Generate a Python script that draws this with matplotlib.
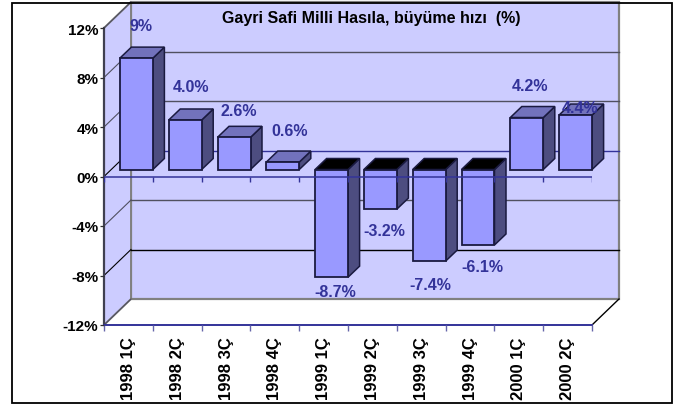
import matplotlib
matplotlib.use("Agg")
import matplotlib.pyplot as plt
from matplotlib.patches import Polygon, Rectangle
from matplotlib.transforms import ScaledTranslation
import numpy as np

categories = ["1998 1Ç", "1998 2Ç", "1998 3Ç", "1998 4Ç", "1999 1Ç",
              "1999 2Ç", "1999 3Ç", "1999 4Ç", "2000 1Ç", "2000 2Ç"]
values = [9.0, 4.0, 2.6, 0.6, -8.7, -3.2, -7.4, -6.1, 4.2, 4.4]
value_labels = ["9%", "4.0%", "2.6%", "0.6%", "-8.7%", "-3.2%", "-7.4%", "-6.1%", "4.2%", "4.4%"]
y_ticks = [-12, -8, -4, 0, 4, 8, 12]
title = "Gayri Safi Milli Hasıla, büyüme hızı  (%)"

# label placement, in px from the bar's front end (x, y up)
label_dx = [5, 6, 5, 7, 4, 4, 1, 4, 3, 4]
label_dy = [33, 33, 27, 32, -14, -21, -23, -22, 32, 8]

W, H = 674, 406
L, R, T, B = 104, 592, 29, 326
NAVY = "#333399"; WALL = "#CCCCFF"; FRONT = "#9999FF"
TOP = "#7272BC"; SIDE = "#4D4D80"; EDGE = "#1a1a40"; GRAY = "#808080"
plt.rcParams["font.family"] = ["Liberation Sans", "DejaVu Sans"]
plt.rcParams["font.weight"] = "bold"

fig = plt.figure(figsize=(W / 100, H / 100), dpi=100, facecolor="white")
ax = fig.add_axes([L / W, 1 - B / H, (R - L) / W, (B - T) / H])
n = len(categories)
ax.set_xlim(0, n)
ax.set_ylim(-12, 12)
ax.patch.set_visible(False)
ax.set_axisbelow(False)

px = n / (R - L)          # data units per px, x
py = 24 / (B - T)         # data units per px, y
wall_dx, wall_dy = 27 * px, 26 * py      # depth of chart box
base_dx, base_dy = 8 * px, 7 * py        # bar front-plane offset
bar_dx, bar_dy = 11.5 * px, 11 * py      # bar depth
bar_w = 33 * px


def poly(pts, **kw):
    kw.setdefault("clip_on", False)
    ax.add_patch(Polygon(pts, closed=True, **kw))


# walls and floor
poly([(wall_dx, -12 + wall_dy), (n + wall_dx, -12 + wall_dy), (n + wall_dx, 12 + wall_dy), (wall_dx, 12 + wall_dy)],
     fc=WALL, ec=GRAY, lw=1.6, zorder=0.5)
poly([(0, -12), (wall_dx, -12 + wall_dy), (wall_dx, 12 + wall_dy), (0, 12)], fc=WALL, ec=GRAY, lw=1.4, zorder=0.6)
ax.plot([n, n + wall_dx], [-12, -12 + wall_dy], color="black", lw=1, clip_on=False, zorder=0.7)
for t in y_ticks:
    col = NAVY if t == 0 else ("black" if t == -8 else "#505060")
    if abs(t) != 12:
        ax.plot([wall_dx, n + wall_dx], [t + wall_dy] * 2, color=col, lw=1.0, clip_on=False, zorder=0.8)
    ax.plot([0, wall_dx], [t, t + wall_dy], color=col if t else "black", lw=0.8, clip_on=False, zorder=0.8)

# bars
centers = np.arange(n) + 0.5
x_front = centers - bar_w / 2 + base_dx
ax.bar(x_front, values, width=bar_w, bottom=base_dy, align="edge", color=FRONT,
       edgecolor=EDGE, linewidth=1.3, zorder=3, clip_on=False)
for x, v in zip(x_front, values):
    y0, y1 = base_dy, base_dy + v
    hi = max(y0, y1)
    xr = x + bar_w
    poly([(xr, y0), (xr + bar_dx, y0 + bar_dy), (xr + bar_dx, y1 + bar_dy), (xr, y1)],
         fc=SIDE, ec=EDGE, lw=1.1, zorder=2.8)
    poly([(x, hi), (xr, hi), (xr + bar_dx, hi + bar_dy), (x + bar_dx, hi + bar_dy)],
         fc="black" if v < 0 else TOP, ec=EDGE, lw=1.1, zorder=2.8)

# zero plane line and its ticks
edges = np.arange(n + 1)
ax.axhline(0, color=NAVY, lw=1.1, zorder=4)
ax.vlines(edges, 0, -5 * py, color=NAVY, lw=1, zorder=4)

# value labels
for x, v, s, dx, dy in zip(x_front, values, value_labels, label_dx, label_dy):
    ax.annotate(s, (x + bar_w / 2, base_dy + v), xytext=(dx * 0.72, dy * 0.72), textcoords="offset points",
                ha="center", va="center", color=NAVY, fontsize=11.5, fontweight="bold", zorder=6,
                annotation_clip=False)

# axes
for s in ("top", "right"):
    ax.spines[s].set_visible(False)
ax.spines["left"].set_color("#404050"); ax.spines["left"].set_linewidth(1.6)
ax.spines["bottom"].set_color(NAVY); ax.spines["bottom"].set_linewidth(1.4)
ax.set_yticks(y_ticks)
ax.set_yticklabels([f"{t}%" for t in y_ticks], fontsize=11, fontweight="bold", color="black")
ax.tick_params(axis="y", length=3, width=0.9, color="#303030", pad=1)
ax.set_xticks(edges)
ax.set_xticklabels([])
ax.set_xticks(centers, minor=True)
ax.set_xticklabels(categories, minor=True, rotation=90, fontsize=12, fontweight="bold",
                   ha="center", va="top", color="black")
shift = ScaledTranslation(2 / 100, 0, fig.dpi_scale_trans)
for lab in ax.get_xticklabels(minor=True):
    lab.set_transform(lab.get_transform() + shift)
ax.tick_params(axis="x", which="major", length=4, width=1, color="#6666aa")
ax.tick_params(axis="x", which="minor", length=0, pad=8)

fig.text(371 / W, 1 - 19 / H, title, ha="center", va="center", fontsize=11.5, fontweight="bold", color="black")
fig.add_artist(Rectangle((11.5 / W, 1 - 404 / H), 660 / W, 400.5 / H, transform=fig.transFigure,
                         fill=False, ec="black", lw=1.3, zorder=10))
fig.savefig("out.png", dpi=100)
